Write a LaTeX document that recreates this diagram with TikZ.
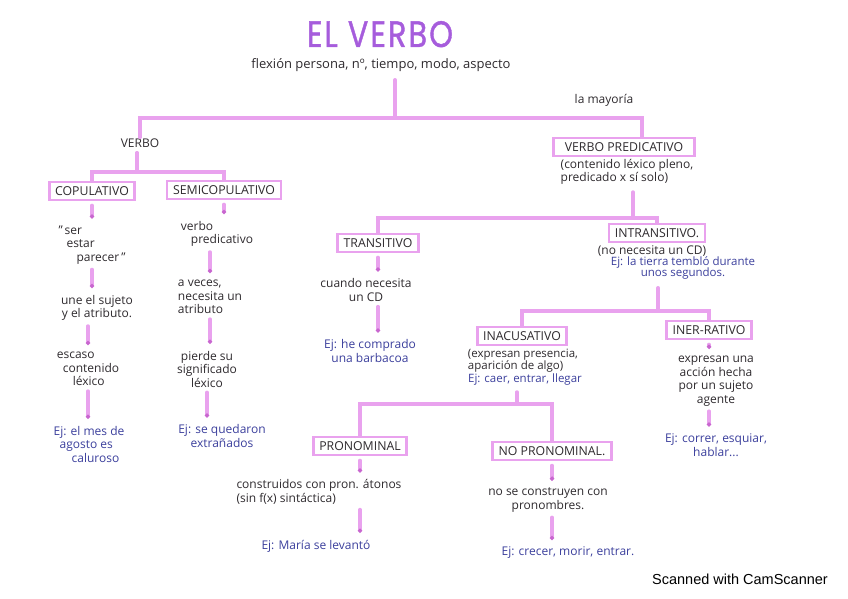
\documentclass[tikz,border=0pt]{standalone}
\usepackage{fontspec}
\setmainfont{Open Sans}
\newfontfamily\titlefont[LetterSpace=7,FakeBold=1.2]{Poppins}
\newfontfamily\scanfont{Liberation Sans}
\usetikzlibrary{arrows.meta,positioning}
\definecolor{mapink}{HTML}{2E2A2E}
\definecolor{mapblue}{HTML}{3B3F9C}
\definecolor{maphilite}{HTML}{E9A2EE}
\definecolor{mapdot}{HTML}{C866CF}
\definecolor{maptitle}{HTML}{A65CDC}

\tikzset{
  note/.style={font=\fontsize{12}{13.5}\selectfont,text=mapink,align=center,inner sep=1pt},
  example/.style={note,text=mapblue},
  box/.style={draw=maphilite,line width=2.8pt,inner xsep=6pt,inner ysep=4.5pt,
    font=\fontsize{12.3}{13}\selectfont,text=mapink},
  link/.style={draw=maphilite,line width=3.4pt,line cap=round},
  drop/.style={link,-{Circle[length=4pt,color=mapdot]},shorten <=4pt,shorten >=6pt},
}

\begin{document}
\begin{tikzpicture}[x=1pt,y=-1pt]
    \path[use as bounding box] (0,0) rectangle (848,599);

    % Title and the features every verb carries.
    \node[font=\fontsize{27}{30}\titlefont,text=maptitle,anchor=base,inner sep=0pt]
      (title) at (380,47) {\scalebox{1.12}[1.36]{EL VERBO}};
    \node[note,font=\fontsize{13}{14}\selectfont] (sub) at (381,65)
      {flexión persona, nº, tiempo, modo, aspecto};
    \node[note] (mayoria) at (604,100) {la mayoría};

    % Left branch: copulative and semi-copulative verbs.
    \node[note] (verbo) at (140,143) {VERBO};
    \node[box] (cop) at (92,191) {COPULATIVO};
    \node[box] (semi) at (224,190) {SEMICOPULATIVO};

    \node[note,align=left] (ser) at (92,245)
      {"\,ser\\\hspace{8pt}estar\\\hspace{18pt}parecer\,"};
    \node[note] (une) at (97,308) {une el sujeto\\y el atributo.};
    \node[note,align=left] (escaso) at (88,369)
      {escaso\\\hspace{6pt}contenido\\\hspace{16pt}léxico};
    \node[example,align=left] (ejcop) at (89,444)
      {Ej: el mes de\\\hspace{6pt}agosto es\\\hspace{18pt}caluroso};

    \node[note,align=left] (vpred) at (217,234) {verbo\\\hspace{10pt}predicativo};
    \node[note,align=left] (aveces) at (210,297) {a veces,\\necesita un\\atributo};
    \node[note] (pierde) at (207,369) {pierde su\\significado\\léxico};
    \node[example] (ejsemi) at (222,436) {Ej: se quedaron\\extrañados};

    % Right branch: predicative verbs.
    \node[box,inner xsep=11pt] (predic) at (624,147) {VERBO PREDICATIVO};
    \node[note,align=left] (predinfo) at (627,172)
      {(contenido léxico pleno,\\predicado x sí solo)};

    \node[box] (trans) at (378,243) {TRANSITIVO};
    \node[note] (cuando) at (366,290) {cuando necesita\\un CD};
    \node[example] (ejtrans) at (370,351) {Ej: he comprado\\una barbacoa};

    \node[box] (intrans) at (657,233) {INTRANSITIVO.};
    \node[note] (intransinfo) at (652,251) {(no necesita un CD)};
    \node[example,font=\fontsize{11.5}{11.5}\selectfont] (ejintrans) at (683,268)
      {Ej: la tierra tembló durante\\unos segundos.};

    \node[box] (inac) at (522,336) {INACUSATIVO};
    \node[note,align=left,font=\fontsize{11.5}{12}\selectfont] (inacinfo) at (523,361)
      {(expresan presencia,\\aparición de algo)};
    \node[example,font=\fontsize{11.5}{12}\selectfont] (ejinac) at (525,380)
      {Ej: caer, entrar, llegar};

    \node[box] (iner) at (709,330) {INER-RATIVO};
    \node[note] (inerinfo) at (716,381)
      {expresan una\\acción hecha\\por un sujeto\\agente};
    \node[example] (ejiner) at (716,445) {Ej: correr, esquiar,\\hablar...};

    \node[box] (pron) at (360,446) {PRONOMINAL};
    \node[note,align=left] (proninfo) at (319,492)
      {construidos con pron. átonos\\(sin f(x) sintáctica)};
    \node[example] (ejpron) at (316,546) {Ej: María se levantó};

    \node[box] (nopron) at (552,451) {NO PRONOMINAL.};
    \node[note] (nopronInfo) at (548,500) {no se construyen con\\pronombres.};
    \node[example] (ejnopron) at (568,553) {Ej: crecer, morir, entrar.};

    \node[font=\scanfont\fontsize{14.5}{16}\selectfont,text=black] (scanner) at (740,579)
      {Scanned with CamScanner};

    % Junctions of the tree.
    \coordinate (jtop) at (395,118);
    \coordinate (jright) at (642,118);
    \coordinate (jverbo) at (137,172);
    \coordinate (jpred) at (633,218);
    \coordinate (jintr) at (658,311);
    \coordinate (jinac) at (517,404);

    \draw[link,shorten <=7pt] (sub.south -| jtop) -- (jtop);
    \draw[link] (verbo.north) |- (jright) -- (jright |- predic.north);

    \draw[link,shorten <=4pt] (verbo.south -| jverbo) -- (jverbo);
    \draw[link] (cop.north) |- (jverbo) -| (semi.north);

    \draw[link,shorten <=6pt] (predinfo.south -| jpred) -- (jpred);
    \draw[link] (trans.north) |- (jpred) -| (intrans.north);

    \draw[link,shorten <=7pt] (ejintrans.south -| jintr) -- (jintr);
    \draw[link] (inac.north) |- (jintr) -| (iner.north);

    \draw[link,shorten <=5pt] (ejinac.south -| jinac) -- (jinac);
    \draw[link] (pron.north) |- (jinac) -| (nopron.north);

    % Downward drops inside each column.
    \draw[drop] (cop.south) -- (cop.south |- ser.north);
    \draw[drop] (ser.south) -- (ser.south |- une.north);
    \draw[drop] (une.south -| escaso.north) -- (escaso.north);
    \draw[drop] (escaso.south) -- (escaso.south |- ejcop.north);

    \draw[drop] (semi.south) -- (semi.south |- vpred.north);
    \draw[drop] (vpred.south -| aveces.north) -- (aveces.north);
    \draw[drop] (aveces.south) -- (aveces.south |- pierde.north);
    \draw[drop] (pierde.south) -- (pierde.south |- ejsemi.north);

    \draw[drop] (trans.south) -- (trans.south |- cuando.north);
    \draw[drop] (cuando.south -| trans.south) -- (trans.south |- ejtrans.north);

    \draw[drop] (iner.south) -- (iner.south |- inerinfo.north);
    \draw[drop] (inerinfo.south -| iner.south) -- (iner.south |- ejiner.north);

    \draw[drop] (pron.south) -- (pron.south |- proninfo.north);
    \draw[drop] (proninfo.south -| pron.south) -- (pron.south |- ejpron.north);

    \draw[drop] (nopron.south) -- (nopron.south |- nopronInfo.north);
    \draw[drop] (nopronInfo.south -| nopron.south) -- (nopron.south |- ejnopron.north);
  \end{tikzpicture}
\end{document}
